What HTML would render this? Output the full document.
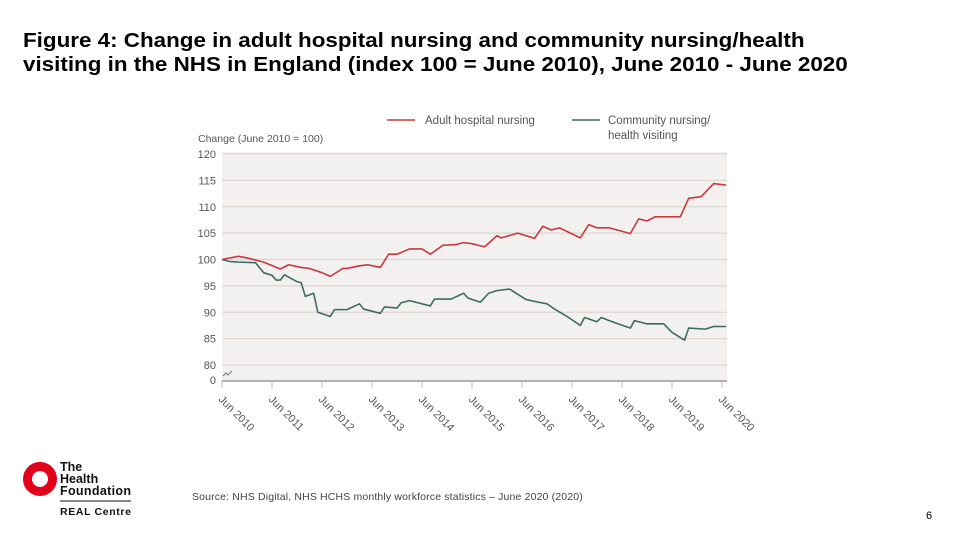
<!DOCTYPE html>
<html><head><meta charset="utf-8">
<style>
body{margin:0;width:960px;height:540px;background:#fff;font-family:"Liberation Sans",Arial,sans-serif;position:relative;overflow:hidden}
#title{position:absolute;left:23px;top:29px;font-size:20px;font-weight:bold;line-height:24px;color:#000;transform:scaleX(1.12);transform-origin:0 0;white-space:nowrap}
#src{position:absolute;left:192px;top:491px;font-size:10.5px;color:#444;letter-spacing:0.15px}
#pg{position:absolute;left:926px;top:510px;font-size:11px;color:#000}
</style></head>
<body>
<div id="title">Figure 4: Change in adult hospital nursing and community nursing/health<br>visiting in the NHS in England (index 100 = June 2010), June 2010 - June 2020</div>
<svg id="chart" width="960" height="540" style="position:absolute;left:0;top:0"></svg>
<div id="src">Source: NHS Digital, NHS HCHS monthly workforce statistics – June 2020 (2020)</div>
<div id="pg">6</div>
<svg width="140" height="80" style="position:absolute;left:10px;top:450px">
<circle cx="30" cy="29" r="12.5" fill="none" stroke="#e2001a" stroke-width="9"/>
<text x="50" y="21" font-size="12.5" font-weight="bold" font-family="Liberation Sans, sans-serif" fill="#111">The</text>
<text x="50" y="33" font-size="12.5" font-weight="bold" font-family="Liberation Sans, sans-serif" fill="#111">Health</text>
<text x="50" y="45" font-size="12.5" font-weight="bold" font-family="Liberation Sans, sans-serif" fill="#111" textLength="71">Foundation</text>
<line x1="50" y1="51" x2="121" y2="51" stroke="#111" stroke-width="1"/>
<text x="50" y="65" font-size="10.5" font-weight="bold" font-family="Liberation Sans, sans-serif" fill="#111" textLength="71">REAL Centre</text>
</svg>
<script>
const yTicks=[120,115,110,105,100,95,90,85,80];
const xLabels=["Jun 2010","Jun 2011","Jun 2012","Jun 2013","Jun 2014","Jun 2015","Jun 2016","Jun 2017","Jun 2018","Jun 2019","Jun 2020"];
const hospMonths=[0,4,6,10,14,16,19,21,24,26,29,30,33,35,38,40,42,45,48,50,53,56,58,60,63,66,67,71,75,77,79,81,86,88,90,93,98,100,102,104,110,112,115,118,121];
const hospValues=[100,100.6,100.3,99.5,98.2,99,98.5,98.3,97.5,96.8,98.3,98.3,98.8,99,98.5,101,101,102,102,101,102.7,102.8,103.2,103,102.4,104.5,104.1,105,104,106.3,105.6,106,104.1,106.6,106,106,104.9,107.7,107.3,108.1,108.1,111.6,111.9,114.4,114.1];
const commMonths=[0,2,4,8,10,12,13,14,15,18,19,20,22,23,26,27,30,33,34,38,39,42,43,45,50,51,55,58,59,62,64,66,69,73,76,78,80,83,86,87,90,91,94,98,99,102,106,108,111,112,116,118,121];
const commValues=[100,99.6,99.5,99.4,97.5,97,96.1,96.1,97.1,95.8,95.6,93,93.6,90,89.2,90.5,90.5,91.6,90.6,89.8,91,90.8,91.8,92.2,91.2,92.5,92.5,93.6,92.7,91.9,93.6,94.1,94.4,92.4,91.9,91.6,90.5,89.1,87.5,89,88.2,89,88.1,87,88.4,87.8,87.8,86.2,84.7,87,86.8,87.3,87.3];

const NS="http://www.w3.org/2000/svg";
const svg=document.getElementById('chart');
const X0=222,PX=50/12,Y0=154,PY=5.275;
const xs=m=>X0+m*PX;
const ys=v=>Y0+(120-v)*PY;
function mk(tag,attrs,parent){const e=document.createElementNS(NS,tag);for(const k in attrs)e.setAttribute(k,attrs[k]);(parent||svg).appendChild(e);return e;}
const bg=mk('rect',{x:222,y:152,width:505,height:229,fill:'#f2f1f0'});


yTicks.forEach(v=>{
 const g=mk('line',{x1:222,x2:727,y1:ys(v),y2:ys(v),stroke:'#dcd6cf','stroke-width':1.3});
 
 
 const t=mk('text',{x:216,y:ys(v)+4,'text-anchor':'end','font-size':11,fill:'#555'});
 t.textContent=v;
 
 
});
const z=mk('text',{x:216,y:384,'text-anchor':'end','font-size':11,fill:'#555'});z.textContent='0';


const brk=mk('path',{d:'M223,376 l3,-3 l2,2 l4,-4',fill:'none',stroke:'#777','stroke-width':1});


const ax=mk('line',{x1:222,x2:727,y1:381,y2:381,stroke:'#999','stroke-width':1.5});


xLabels.forEach((l,i)=>{
 const x=xs(i*12);
 const tk=mk('line',{x1:x,x2:x,y1:381,y2:388,stroke:'#bbb'});
 
 
 const t=mk('text',{x:x-4,y:400,'font-size':11,fill:'#555',transform:`rotate(45 ${x-4} 400)`});
 t.textContent=l;
 
 
});
const yt=mk('text',{x:198,y:142,'font-size':10.5,fill:'#555'});yt.textContent='Change (June 2010 = 100)';


function line(ms,vs,col,name){
 const p=mk('polyline',{points:ms.map((m,i)=>xs(m)+','+ys(vs[i])).join(' '),fill:'none',stroke:col,'stroke-width':1.6,'stroke-linejoin':'round'});
 
 
}
line(commMonths,commValues,'#3d6b63','community-nursing-line');
line(hospMonths,hospValues,'#c8383f','hospital-nursing-line');
const l1=mk('line',{x1:387,x2:415,y1:120,y2:120,stroke:'#c8383f','stroke-width':1.6});


const lt1=mk('text',{x:425,y:124,'font-size':11.5,fill:'#555'});lt1.textContent='Adult hospital nursing';


const l2=mk('line',{x1:572,x2:600,y1:120,y2:120,stroke:'#3d6b63','stroke-width':1.6});


const lt2=mk('text',{x:608,y:124,'font-size':11.5,fill:'#555'});lt2.textContent='Community nursing/';


const lt3=mk('text',{x:608,y:139,'font-size':11.5,fill:'#555'});lt3.textContent='health visiting';


</script>
</body></html>
